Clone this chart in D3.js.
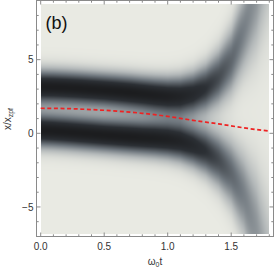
<!DOCTYPE html>
<html>
<head>
<meta charset="utf-8">
<title>density (b)</title>
<script src="https://d3js.org/d3.v7.min.js"></script>
<style>
  html, body { margin: 0; padding: 0; background: #fff; }
  svg { font-family: 'Liberation Sans', Arial, sans-serif; display: block; }
</style>
</head>
<body>
<script>
// values
const tKnots      = [0, 0.1, 0.2, 0.3, 0.4, 0.5, 0.6, 0.7, 0.8, 0.9, 1.0, 1.1, 1.2, 1.3, 1.4, 1.5, 1.6, 1.7, 1.8]
const upperCenter = [3.15, 3.13, 3.09, 3.04, 2.98, 2.92, 2.85, 2.77, 2.68, 2.59, 2.52, 2.52, 2.68, 3.05, 3.75, 4.9, 7.0, 9.5, 13.5]
const lowerCenter = [0.20, 0.15, 0.09, 0.02, -0.05, -0.12, -0.18, -0.24, -0.30, -0.35, -0.42, -0.55, -0.82, -1.2, -1.8, -2.7, -4.2, -6.6, -10.5]
const bandSigma   = [0.8, 0.8, 0.8, 0.8, 0.8, 0.8, 0.81, 0.82, 0.83, 0.85, 0.88, 0.93, 1.0, 1.12, 1.3, 1.58, 2.05, 2.9, 4.2]
const bandPeak    = [1, 1, 1, 1, 1, 1, 1, 1, 0.99, 0.98, 0.96, 0.92, 0.86, 0.78, 0.68, 0.57, 0.47, 0.39, 0.3]

const redT = [0, 0.2, 0.4, 0.6, 0.8, 1.0, 1.2, 1.4, 1.6, 1.8]
const redV = [1.70, 1.68, 1.61, 1.51, 1.36, 1.15, 0.88, 0.64, 0.37, 0.15]

const xMajor = [0, 0.5, 1.0, 1.5]
const xLabels = ['0.0', '0.5', '1.0', '1.5']
const xMinor = [0.1, 0.2, 0.3, 0.4, 0.6, 0.7, 0.8, 0.9, 1.1, 1.2, 1.3, 1.4, 1.6, 1.7, 1.8]
const yMajor = [-5, 0, 5]
const yLabels = ['\u22125', '0', '5']
const yMinor = [-6, -4, -3, -2, -1, 1, 2, 3, 4, 6, 7, 8]

const W = 274, H = 271
const svg = d3.select('body').append('svg').attr('width', W).attr('height', H)

const x = d3.scaleLinear().domain([0, 1.8]).range([40.7, 269.3])
const y = d3.scaleLinear().domain([-6.85, 8.8]).range([234.2, 3.7])
const frame = {l: 36.5, r: 273.5, t: 0.5, b: 236.5}

// interpolators over the knots
const up = d3.scaleLinear().domain(tKnots).range(upperCenter)
const lo = d3.scaleLinear().domain(tKnots).range(lowerCenter)
const sg = d3.scaleLinear().domain(tKnots).range(bandSigma)
const pk = d3.scaleLinear().domain(tKnots).range(bandPeak)

const shade = d3.scaleLinear()
  .domain([0, 0.08, 0.25, 0.5, 0.78, 1])
  .range(['#e9eae3', '#dadcd7', '#b3b8b9', '#6f777e', '#2c3035', '#1c1d1f'])
  .clamp(true)

// density image
const ix0 = Math.round(x(0)), ix1 = Math.round(x(1.8))
const iy0 = Math.round(y(8.8)), iy1 = Math.round(y(-6.85))
const iw = ix1 - ix0, ih = iy1 - iy0
const cv = document.createElement('canvas')
cv.width = iw; cv.height = ih
const ctx = cv.getContext('2d')
const img = ctx.createImageData(iw, ih)
for (let i = 0; i < iw; i++) {
  const t = x.invert(ix0 + i + 0.5)
  const cu = up(t), cl = lo(t), s = sg(t), p = pk(t)
  for (let j = 0; j < ih; j++) {
    const v = y.invert(iy0 + j + 0.5)
    const du = (v - cu) / s, dl = (v - cl) / s
    const val = p * (Math.exp(-du * du / 2) + Math.exp(-dl * dl / 2))
    const c = d3.rgb(shade(val))
    const k = (j * iw + i) * 4
    img.data[k] = c.r; img.data[k + 1] = c.g; img.data[k + 2] = c.b; img.data[k + 3] = 255
  }
}
ctx.putImageData(img, 0, 0)

svg.append('rect')
  .attr('x', frame.l).attr('y', frame.t)
  .attr('width', frame.r - frame.l).attr('height', frame.b - frame.t)
  .attr('fill', '#fff')

svg.append('image')
  .attr('x', ix0).attr('y', iy0)
  .attr('width', iw).attr('height', ih)
  .attr('preserveAspectRatio', 'none')
  .attr('href', cv.toDataURL())

// red dashed line
const pts = redT.map((t, i) => ({t: t, v: redV[i]}))
svg.append('path')
  .datum(pts)
  .attr('d', d3.line().x(d => x(d.t)).y(d => y(d.v)).curve(d3.curveMonotoneX))
  .attr('fill', 'none')
  .attr('stroke', '#ee2222')
  .attr('stroke-width', 1.7)
  .attr('stroke-dasharray', '4,2.6')

// frame
svg.append('rect')
  .attr('x', frame.l).attr('y', frame.t)
  .attr('width', frame.r - frame.l).attr('height', frame.b - frame.t)
  .attr('fill', 'none').attr('stroke', '#8a8a8a').attr('stroke-width', 1)

const tickG = svg.append('g').attr('stroke', '#8a8a8a').attr('stroke-width', 1)
function xTicks(vals, len) {
  vals.forEach(v => {
    const px = x(v)
    tickG.append('line').attr('x1', px).attr('x2', px).attr('y1', frame.b).attr('y2', frame.b - len)
    tickG.append('line').attr('x1', px).attr('x2', px).attr('y1', frame.t).attr('y2', frame.t + len)
  })
}
function yTicks(vals, len) {
  vals.forEach(v => {
    const py = y(v)
    tickG.append('line').attr('y1', py).attr('y2', py).attr('x1', frame.l).attr('x2', frame.l + len)
    tickG.append('line').attr('y1', py).attr('y2', py).attr('x1', frame.r).attr('x2', frame.r - len)
  })
}
xTicks(xMajor, 4); xTicks(xMinor, 2.2)
yTicks(yMajor, 4); yTicks(yMinor, 2.2)

// tick labels
svg.selectAll('.xl').data(xMajor).enter().append('text')
  .attr('x', d => x(d)).attr('y', 249.5)
  .attr('text-anchor', 'middle').attr('font-size', '10px').attr('fill', '#333')
  .text((d, i) => xLabels[i])

svg.selectAll('.yl').data(yMajor).enter().append('text')
  .attr('x', 33.5).attr('y', d => y(d) + 3.6)
  .attr('text-anchor', 'end').attr('font-size', '10px').attr('fill', '#333')
  .text((d, i) => yLabels[i])

// axis titles
const xt = svg.append('text')
  .attr('x', 155).attr('y', 265)
  .attr('text-anchor', 'middle').attr('font-size', '10px').attr('fill', '#333')
xt.append('tspan').text('\u03c9')
xt.append('tspan').attr('font-size', '7px').attr('dy', 2).text('0')
xt.append('tspan').attr('dy', -2).text('t')

const yt = svg.append('text')
  .attr('transform', 'translate(11,119) rotate(-90)')
  .attr('text-anchor', 'middle').attr('font-size', '10px').attr('fill', '#333')
yt.append('tspan').text('x/x')
yt.append('tspan').attr('font-size', '7px').attr('dy', 2).text('zpf')

// panel label
svg.append('text')
  .attr('x', 45.5).attr('y', 29)
  .attr('font-size', '18px').attr('fill', '#111')
  .text('(b)')
</script>
</body>
</html>
